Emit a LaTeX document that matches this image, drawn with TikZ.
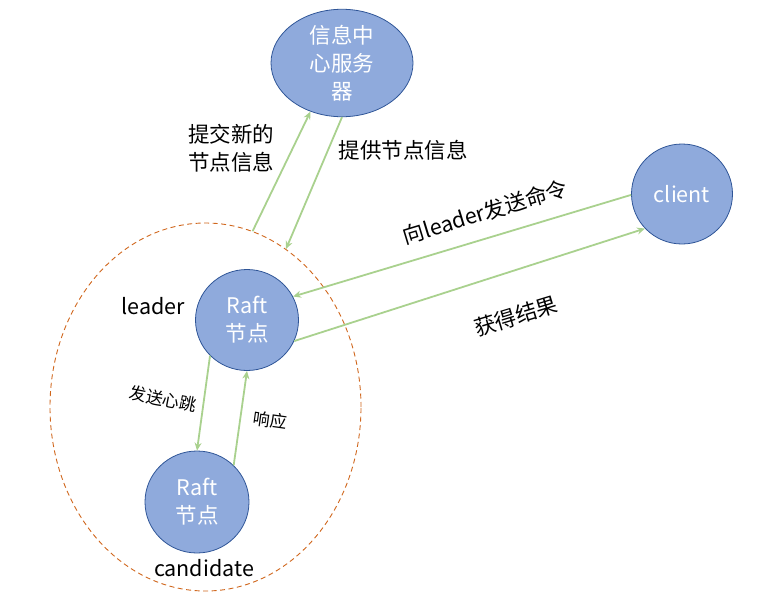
\documentclass[tikz,border=0pt]{standalone}
\usepackage{fontspec}
\setmainfont{Noto Sans CJK SC}
\usetikzlibrary{shapes.geometric,arrows.meta}
\definecolor{nodefill}{HTML}{8FAADC}
\definecolor{nodeline}{HTML}{2F5597}
\definecolor{arrowgreen}{HTML}{A9D18E}
\definecolor{dashorange}{HTML}{D0661C}
\tikzset{
  blob/.style={ellipse, draw=nodeline, line width=0.8pt, fill=nodefill, text=white,
    font=\fontsize{21.5}{28}\selectfont, align=center, inner sep=0pt},
  link/.style={draw=arrowgreen, line width=1.8pt, -{Stealth[length=8pt,width=7pt]}},
  lbl/.style={font=\fontsize{21.5}{28}\selectfont, text=black, align=center, inner sep=0pt},
  smalllbl/.style={font=\fontsize{17}{22}\selectfont, text=black, inner sep=0pt},
}
\begin{document}
\begin{tikzpicture}[x=1pt,y=-1pt]
\useasboundingbox (0,0) rectangle (763,603);
% cluster
\node[ellipse, draw=dashorange, dash pattern=on 5pt off 3.5pt, line width=0.9pt, minimum width=311pt, minimum height=368pt, inner sep=0pt] (cluster) at (205.5,407) {};
% nodes
\node[blob, minimum width=142pt, minimum height=100pt] (center) at (342,63) {信息中\\心服务\\器};
\node[blob, minimum width=101pt, minimum height=100pt] (client) at (682,194) {client};
\node[blob, minimum width=103pt, minimum height=101pt] (leader) at (247,320) {Raft\\节点};
\node[blob, minimum width=104pt, minimum height=102pt] (cand) at (197,502) {Raft\\节点};
% arrows
\draw[link] (cluster.75) -- (center.237);
\draw[link] (center.south) -- (cluster.63.4);
\draw[link] (client.181) -- (leader.27.5);
\draw[link] (leader.-24.5) -- (client.223.4);
\draw[link] (leader.224) -- (cand.north);
\draw[link] (cand.45) -- (leader.south);
% labels
\node[lbl] (l1) at (231,148) {提交新的\\节点信息};
\node[lbl] (l2) at (403,150) {提供节点信息};
\node[lbl, rotate=17] (l3) at (485,212) {向leader发送命令};
\node[lbl, rotate=17] (l4) at (516,316) {获得结果};
\node[lbl] (l5) at (153,306) {leader};
\node[lbl] (l6) at (204,568) {candidate};
\node[smalllbl, rotate=-11] (l7) at (163,399) {发送心跳};
\node[smalllbl, rotate=-8] (l8) at (270,420) {响应};
\end{tikzpicture}
\end{document}
